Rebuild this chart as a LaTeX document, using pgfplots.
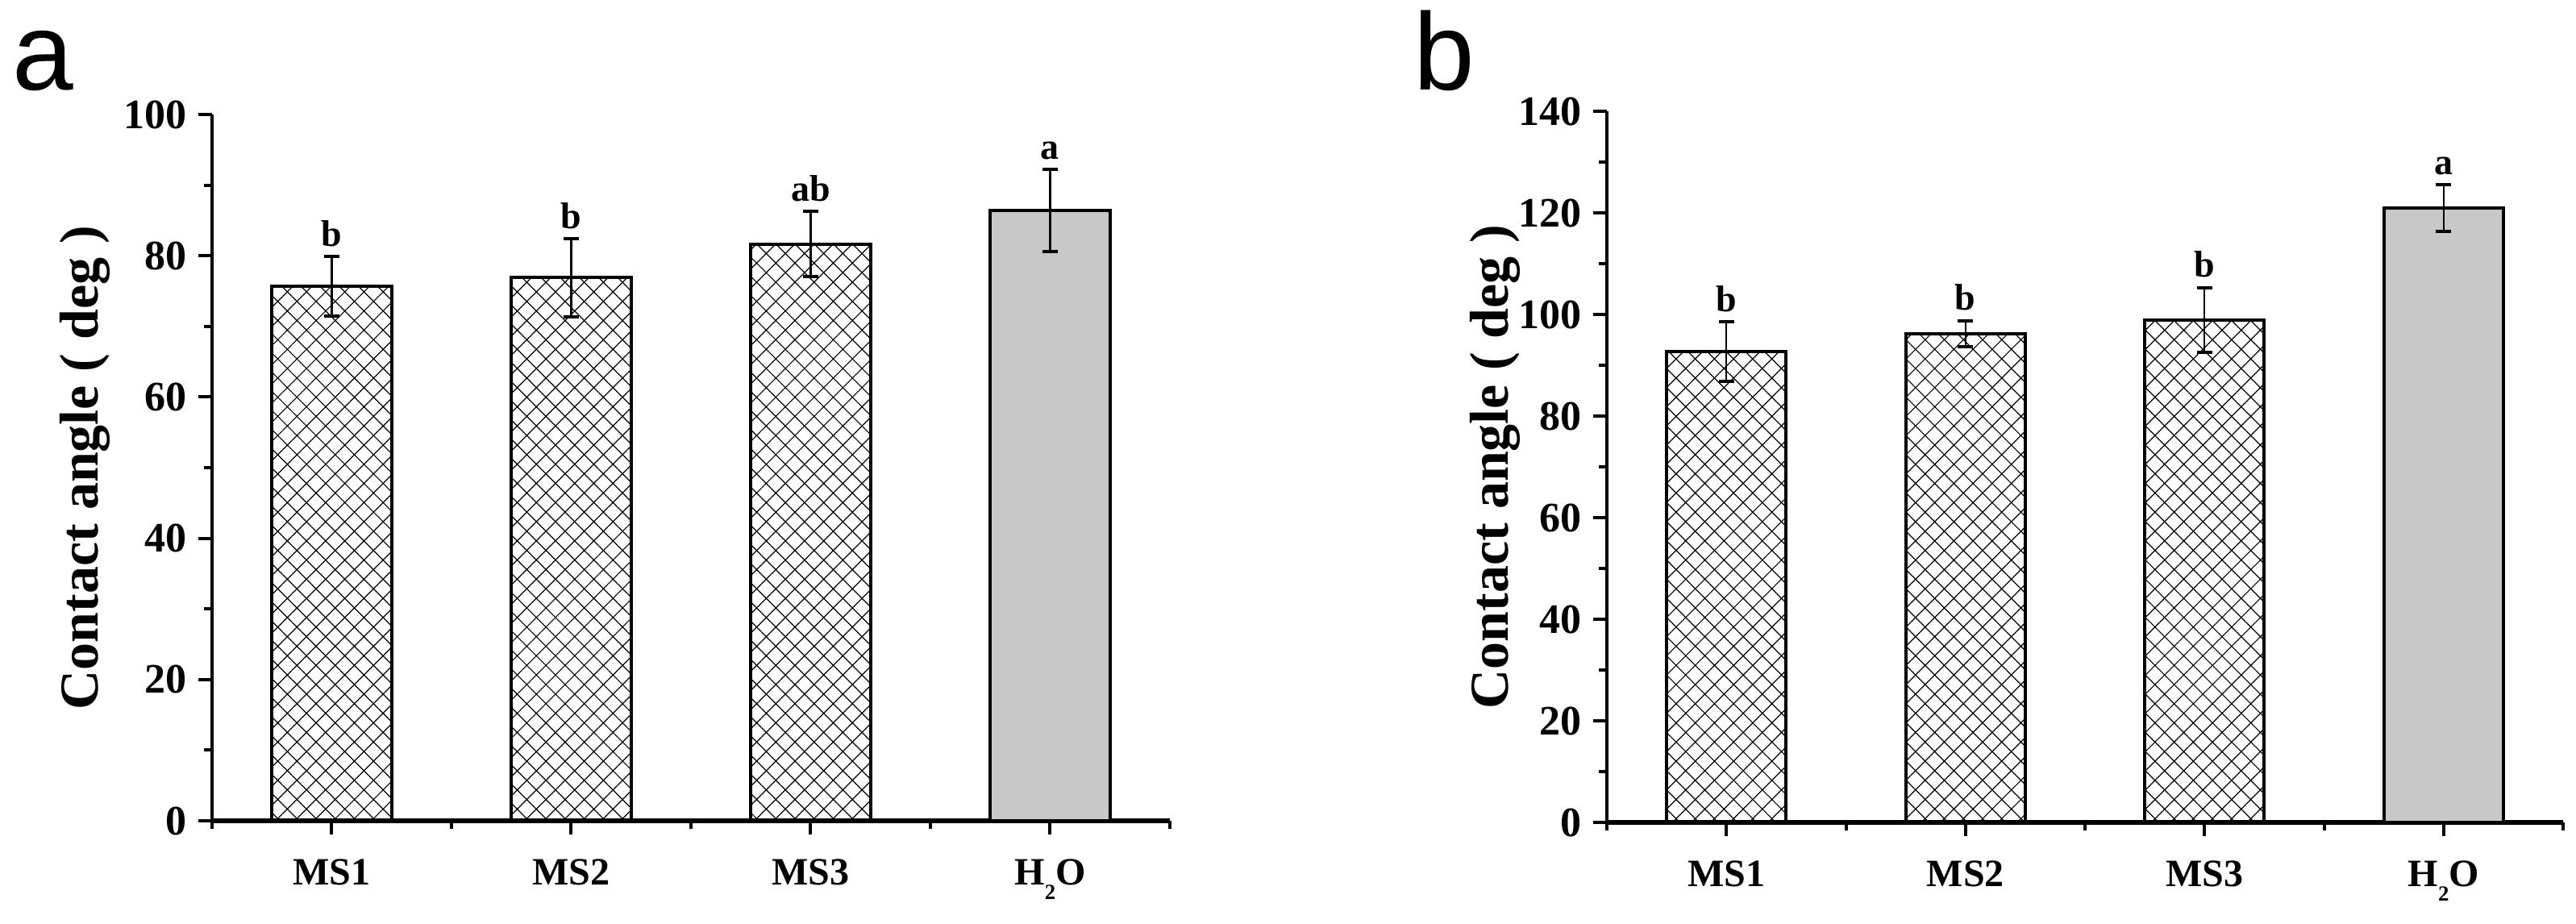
\documentclass[border=0pt]{standalone}
\usepackage{fontspec}
\setmainfont{Liberation Serif}
\newfontfamily\arialf{Liberation Sans}
\usepackage{pgfplots}
\pgfplotsset{compat=1.18}
\usetikzlibrary{patterns.meta}
\definecolor{bargray}{RGB}{200,200,200}

\pgfplotsset{
  myaxis/.style={
    ybar, bar width=0.5, bar shift=0pt,
    scale only axis,
    xmin=0.5, xmax=4.5, ymin=0,
    axis x line*=bottom, axis y line*=left,
    x axis line style={line width=1.6pt},
    y axis line style={line width=1pt},
    tick align=outside,
    major tick length=4.3pt, minor tick length=2.5pt,
    every tick/.style={black, line width=1pt},
    xtick={1,2,3,4}, minor xtick={0.5,1.5,2.5,3.5,4.5},
    xticklabels={MS1,MS2,MS3,{H\raisebox{-4.5pt}{\fontsize{6.7}{6.7}\selectfont 2}O}},
    /pgf/number format/assume math mode=true,
    yticklabel style={font=\fontsize{13}{13}\selectfont\bfseries},
    xticklabel style={font=\fontsize{12}{12}\selectfont\bfseries, anchor=base, yshift=-15.5pt},
    ylabel={Contact angle ( deg )},
    clip=false,
  },
  errs/.style={error bars/.cd, y dir=both, y explicit,
    error bar style={line width=0.55pt, black},
    error mark options={rotate=90, line width=1pt, mark size=2.4pt, black}},
  hatchbar/.style={draw=black, line width=1pt, pattern={Hatch[angle=45,distance=4.2pt,line width=0.3pt]}, pattern color=black, errs},
  graybar/.style={draw=black, line width=1pt, fill=bargray, errs},
}
\tikzset{lettr/.style={font=\fontsize{11.5}{11.5}\selectfont\bfseries, anchor=base, yshift=3.2pt, inner sep=0pt}}

\begin{document}
\begin{tikzpicture}
\useasboundingbox (0,0) rectangle (798.75pt,286.5pt);

\node[anchor=base west, inner sep=0pt, font=\fontsize{34}{34}\selectfont\arialf] at (3.75pt,258.5pt) {a};
\node[anchor=base west, inner sep=0pt, font=\fontsize{34}{34}\selectfont\arialf] at (438.25pt,258.5pt) {b};

% Panel a
\begin{axis}[myaxis,
  at={(65.75pt,32pt)}, anchor=south west,
  width=297pt, height=219pt,
  ymax=100,
  ytick={0,20,...,100}, minor ytick={10,30,...,90},
  ylabel style={at={(axis description cs:-0.1195,0.5)}, anchor=base, font=\fontsize{17}{17}\selectfont\bfseries},
]
\addplot[hatchbar] coordinates {(1,75.7) +- (0,4.2) (2,76.9) +- (0,5.5) (3,81.65) +- (0,4.65)};
\addplot[graybar] coordinates {(4,86.4) +- (0,5.85)};
\node[lettr] at (axis cs:1,79.9) {b};
\node[lettr] at (axis cs:2,82.4) {b};
\node[lettr] at (axis cs:3,86.3) {ab};
\node[lettr] at (axis cs:4,92.25) {a};
\end{axis}

% Panel b
\begin{axis}[myaxis,
  at={(498.25pt,31.5pt)}, anchor=south west,
  width=296.5pt, height=220.5pt,
  ymax=140,
  ytick={0,20,...,140}, minor ytick={10,30,...,130},
  ylabel style={at={(axis description cs:-0.1037,0.5)}, anchor=base, font=\fontsize{17}{17}\selectfont\bfseries},
]
\addplot[hatchbar] coordinates {(1,92.7) +- (0,5.9) (2,96.25) +- (0,2.55) (3,98.9) +- (0,6.4)};
\addplot[graybar] coordinates {(4,120.9) +- (0,4.6)};
\node[lettr] at (axis cs:1,98.6) {b};
\node[lettr] at (axis cs:2,98.8) {b};
\node[lettr] at (axis cs:3,105.3) {b};
\node[lettr] at (axis cs:4,125.5) {a};
\end{axis}
\end{tikzpicture}
\end{document}
